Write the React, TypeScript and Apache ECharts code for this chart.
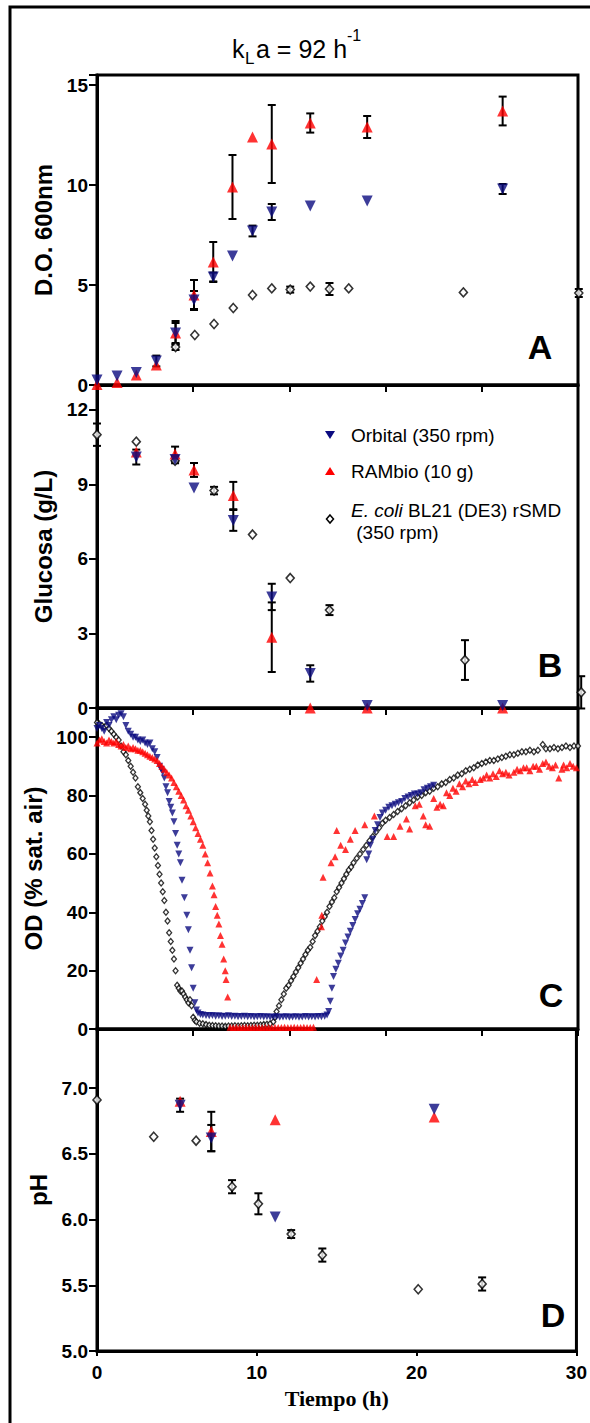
import React, { useEffect, useRef } from 'react';
import * as echarts from 'echarts';

const NAVY = '#0b0b80';
const RED = '#ff0000';

// Panel A — D.O. 600nm : [t (h), value, sd]
const aOrbital = [[0, 0.25, 0], [1.25, 0.45, 0], [2.45, 0.62, 0], [3.7, 1.2, 0.27], [4.9, 2.6, 0.5], [6.05, 4.25, 0.45], [7.25, 5.4, 0.22], [8.45, 6.45, 0], [9.7, 7.7, 0.27], [10.9, 8.65, 0.4], [13.3, 8.95, 0], [16.85, 9.2, 0], [25.3, 9.8, 0.25]];
const aRambio = [[0, 0.02, 0], [1.25, 0.12, 0], [2.45, 0.5, 0], [3.7, 1.0, 0], [4.9, 2.6, 0.6], [6.05, 4.5, 0.75], [7.25, 6.15, 1.0], [8.45, 9.9, 1.6], [9.7, 12.4, 0], [10.9, 12.05, 1.95], [13.3, 13.1, 0.48], [16.85, 12.9, 0.55], [25.3, 13.7, 0.72]];
const aEcoli = [[4.9, 1.9, 0.15], [6.1, 2.5, 0], [7.3, 3.05, 0], [8.5, 3.85, 0], [9.7, 4.5, 0], [10.9, 4.83, 0], [12.05, 4.77, 0.15], [13.3, 4.92, 0], [14.5, 4.8, 0.3], [15.7, 4.83, 0], [22.85, 4.63, 0], [30.05, 4.6, 0.2]];

// Panel B — Glucosa (g/L)
const bOrbital = [[2.45, 10.1, 0.3], [4.87, 10.0, 0.15], [6.05, 8.85, 0], [8.5, 7.55, 0.42], [10.9, 4.47, 0.53], [13.3, 1.39, 0.33], [16.85, 0.1, 0], [25.3, 0.1, 0]];
const bRambio = [[2.45, 10.3, 0], [4.87, 10.22, 0.3], [6.05, 9.58, 0.28], [8.5, 8.55, 0.55], [10.9, 2.85, 1.4], [13.3, 0, 0], [16.85, 0, 0], [25.3, 0, 0]];
const bEcoli = [[0, 11.0, 0.45], [2.45, 10.72, 0], [4.87, 9.95, 0], [7.3, 8.75, 0.15], [9.7, 6.98, 0], [12.05, 5.23, 0], [14.5, 3.94, 0.2], [22.95, 1.93, 0.8], [30.2, 0.63, 0.65]];

// Panel C — OD (% sat. air) : [t (h), value]
const cEcoli = [[0, 105], [0.15, 104.5], [0.3, 104], [0.45, 103.5], [0.6, 104], [0.75, 103], [0.9, 102], [1.05, 101], [1.2, 100], [1.35, 99], [1.5, 97], [1.65, 95], [1.8, 94], [1.95, 92], [2.1, 90], [2.25, 88], [2.4, 86], [2.55, 83], [2.7, 81], [2.85, 79], [3.0, 77], [3.1, 75], [3.2, 73], [3.3, 71], [3.4, 68], [3.5, 65], [3.6, 62], [3.7, 59], [3.8, 56], [3.9, 53], [4.0, 50], [4.1, 47], [4.2, 44], [4.3, 40], [4.4, 37], [4.5, 33], [4.6, 30], [4.7, 27], [4.8, 24], [4.9, 20], [5.0, 15], [5.1, 14], [5.2, 13], [5.3, 13], [5.4, 12], [5.5, 11], [5.6, 10], [5.7, 9], [5.8, 10], [5.9, 8], [6.0, 4], [6.1, 3], [6.2, 2.5], [6.4, 2], [6.6, 1.8], [6.8, 1.5], [7.0, 1.3], [7.2, 1.2], [7.4, 1.1], [7.6, 1.0], [7.8, 1.0], [8.0, 0.9], [8.2, 1.0], [8.4, 1.0], [8.6, 1.1], [8.8, 1.0], [9.0, 1.1], [9.2, 1.2], [9.4, 1.1], [9.6, 1.2], [9.8, 1.3], [10.0, 1.3], [10.2, 1.4], [10.4, 1.5], [10.6, 1.6], [10.8, 1.8], [11.0, 2.5], [11.1, 4], [11.2, 6], [11.35, 8], [11.5, 10], [11.65, 12], [11.8, 14], [11.95, 15], [12.1, 16.5], [12.25, 18], [12.4, 19.5], [12.55, 21], [12.7, 22.5], [12.85, 24], [13.0, 25.5], [13.15, 27], [13.3, 28], [13.45, 30], [13.6, 32], [13.75, 33.5], [13.9, 35], [14.05, 37], [14.2, 38.5], [14.35, 40], [14.5, 42], [14.65, 43.5], [14.8, 45], [14.95, 47], [15.1, 48.5], [15.25, 50], [15.4, 51.5], [15.55, 53], [15.7, 54.5], [15.85, 55.5], [16.0, 57], [16.2, 58.5], [16.4, 60], [16.6, 61.5], [16.8, 63], [17.0, 64.5], [17.2, 66], [17.4, 67.5], [17.6, 69], [17.8, 70.5], [18.0, 71.5], [18.25, 72.5], [18.5, 73.5], [18.75, 74.5], [19.0, 75.5], [19.25, 76.5], [19.5, 77.5], [19.75, 78.5], [20.0, 79.5], [20.25, 80], [20.5, 81], [20.75, 81.5], [21.0, 82.5], [21.25, 83], [21.5, 84], [21.75, 84.5], [22.0, 85.5], [22.25, 86], [22.5, 87], [22.75, 87.5], [23.0, 88.5], [23.25, 89], [23.5, 89.5], [23.75, 90.5], [24.0, 91], [24.25, 91.5], [24.5, 92], [24.75, 92], [25.0, 92.5], [25.25, 93], [25.5, 93.5], [25.75, 94], [26.0, 94], [26.25, 94.5], [26.5, 95], [26.75, 95], [27.0, 95.5], [27.25, 95], [27.5, 95.5], [27.8, 97.5], [28.0, 96], [28.25, 96], [28.5, 96.5], [28.75, 96], [29.0, 96.5], [29.25, 97], [29.5, 96.5], [29.75, 97], [30.0, 97]];
const cOrbital = [[0, 103], [0.15, 104], [0.3, 103], [0.45, 102], [0.6, 105], [0.75, 104], [0.9, 106], [1.05, 107], [1.2, 106], [1.35, 107.5], [1.5, 108], [1.65, 107], [1.8, 104], [1.95, 102], [2.1, 101], [2.25, 100], [2.4, 100], [2.55, 99], [2.7, 98.5], [2.85, 99], [3.0, 98], [3.15, 97.5], [3.3, 98], [3.45, 96], [3.6, 95], [3.75, 93], [3.9, 90], [4.0, 89], [4.1, 88], [4.2, 86], [4.3, 83], [4.4, 81], [4.5, 78], [4.6, 76], [4.7, 74], [4.8, 71], [4.9, 67], [5.0, 63], [5.1, 60], [5.2, 57], [5.3, 51], [5.45, 45], [5.6, 39], [5.7, 34], [5.8, 27], [5.9, 21], [6.0, 14], [6.1, 9], [6.2, 6.5], [6.3, 5.5], [6.45, 5], [6.6, 4.8], [6.8, 4.6], [7.0, 4.5], [7.2, 4.6], [7.4, 4.4], [7.6, 4.5], [7.8, 4.3], [8.0, 4.4], [8.2, 4.5], [8.4, 4.3], [8.6, 4.4], [8.8, 4.2], [9.0, 4.3], [9.2, 4.4], [9.4, 4.2], [9.6, 4.3], [9.8, 4.1], [10.0, 4.2], [10.2, 4.3], [10.4, 4.1], [10.6, 4.2], [10.8, 4.0], [11.0, 4.1], [11.2, 4.2], [11.4, 4.0], [11.6, 4.1], [11.8, 4.2], [12.0, 4.0], [12.2, 4.1], [12.4, 4.2], [12.6, 4.0], [12.8, 4.1], [13.0, 4.3], [13.2, 4.1], [13.4, 4.2], [13.6, 4.1], [13.8, 4.3], [14.0, 4.2], [14.2, 4.4], [14.35, 4.8], [14.45, 6], [14.55, 9.5], [14.65, 14], [14.75, 18], [14.9, 20.5], [15.05, 22.5], [15.2, 25], [15.35, 27], [15.5, 29.5], [15.65, 31.5], [15.8, 33.5], [15.95, 35.5], [16.1, 37.5], [16.25, 39.5], [16.4, 41], [16.55, 43], [16.7, 45], [16.82, 58], [16.95, 60], [17.05, 63], [17.2, 65], [17.35, 68], [17.5, 70], [17.65, 72.5], [17.8, 74], [18.0, 75], [18.2, 76], [18.4, 76.5], [18.6, 77], [18.8, 77.5], [19.0, 78], [19.2, 79], [19.4, 79.5], [19.6, 80], [19.8, 80.5], [20.0, 80.5], [20.2, 81], [20.4, 82], [20.6, 82.5], [20.8, 83], [21.0, 83.5]];
const cRambio = [[0, 98], [0.15, 99], [0.3, 99.5], [0.45, 98.5], [0.6, 98], [0.75, 99], [0.9, 98.5], [1.05, 98], [1.2, 98.5], [1.35, 97.5], [1.5, 97], [1.65, 97.5], [1.8, 96.5], [1.95, 97], [2.1, 96], [2.25, 96.5], [2.4, 96], [2.55, 95.5], [2.7, 95.5], [2.85, 95], [3.0, 94.5], [3.15, 94], [3.3, 93.5], [3.45, 93], [3.6, 92.5], [3.75, 92], [3.9, 91], [4.05, 90], [4.2, 89], [4.35, 88], [4.5, 87], [4.65, 86], [4.8, 84.5], [4.95, 83], [5.1, 81.5], [5.25, 80], [5.4, 78.5], [5.55, 76.5], [5.7, 75], [5.85, 73], [6.0, 71], [6.15, 69], [6.3, 67], [6.45, 65], [6.6, 63], [6.75, 60], [6.9, 57], [7.05, 53.5], [7.2, 49], [7.3, 46], [7.4, 42], [7.5, 39], [7.6, 36], [7.7, 32], [7.8, 29], [7.9, 24], [8.0, 20], [8.05, 17], [8.15, 11], [8.3, 0.6], [8.5, 0.5], [8.7, 0.6], [8.9, 0.5], [9.1, 0.5], [9.3, 0.6], [9.5, 0.5], [9.7, 0.5], [9.9, 0.6], [10.1, 0.5], [10.3, 0.5], [10.5, 0.6], [10.7, 0.5], [10.9, 0.5], [11.1, 0.6], [11.3, 0.5], [11.5, 0.5], [11.7, 0.6], [11.9, 0.5], [12.1, 0.5], [12.3, 0.6], [12.5, 0.5], [12.7, 0.5], [12.9, 0.6], [13.1, 0.5], [13.3, 0.5], [13.5, 0.6], [13.7, 17], [14.0, 35], [14.02, 39], [14.1, 52], [14.6, 57], [14.85, 59], [14.95, 68], [15.2, 63], [15.5, 61.5], [15.8, 65], [16.1, 68], [16.7, 70], [17.3, 73], [18.1, 66], [18.5, 66], [18.9, 69.5], [19.3, 72], [19.5, 68.5], [19.85, 76.5], [20.1, 77], [20.35, 73], [20.5, 70], [20.75, 69.5], [21.0, 79], [21.2, 76], [21.4, 77], [21.6, 76.5], [21.8, 81], [22.0, 80], [22.2, 82.5], [22.4, 81.5], [22.6, 84], [22.8, 83], [23.0, 85], [23.2, 84], [23.4, 85.5], [23.6, 84.5], [23.9, 85.5], [24.1, 86], [24.3, 87], [24.5, 86], [24.7, 87.5], [24.9, 86.5], [25.1, 88.5], [25.3, 87.5], [25.5, 88], [25.7, 87], [26.0, 88], [26.2, 89], [26.4, 88.5], [26.6, 89.5], [26.8, 89.5], [27.0, 88.5], [27.2, 90], [27.4, 90], [27.6, 89], [27.8, 91], [28.0, 91.5], [28.2, 90], [28.4, 89.5], [28.6, 90.5], [28.8, 86], [29.0, 89], [29.1, 90.5], [29.3, 89.5], [29.5, 91], [29.7, 90], [29.9, 89.5]];

// Panel D — pH : [t (h), value, sd]
const dOrbital = [[5.2, 6.87, 0.05], [7.15, 6.62, 0.1], [11.15, 6.02, 0], [21.1, 6.84, 0]];
const dRambio = [[5.2, 6.9, 0], [7.15, 6.67, 0.15], [11.15, 6.76, 0], [21.1, 6.78, 0]];
const dEcoli = [[0, 6.91, 0], [3.55, 6.63, 0], [6.2, 6.6, 0], [8.45, 6.25, 0.05], [10.1, 6.12, 0.08], [12.15, 5.89, 0.03], [14.1, 5.73, 0.05], [20.1, 5.47, 0], [24.1, 5.51, 0.05]];

const yNames = ['D.O. 600nm', 'Glucosa (g/L)', 'OD (% sat. air)', 'pH'];
const yMin = [0, 0, 0, 5];
const yMax = [15.5, 13, 110, 7.45];
const yStep = [5, 3, 20, 0.5];
const xTickStep = [6, 6, 6, 10];
const panelLetters = ['A', 'B', 'C', 'D'];
const legendNames = ['Orbital (350 rpm)', 'RAMbio (10 g)'];

const GRID_TOP = [75, 385, 708, 1029];
const GRID_H = [310, 323, 321, 322];
const FONT = 'Liberation Sans, Arial, sans-serif';

function errData(...sets: number[][][]) {
  const out: number[][] = [];
  sets.forEach((s) => s.forEach((p) => { if (p[2] > 0) out.push([p[0], p[1] - p[2], p[1] + p[2]]); }));
  return out;
}

function errSeries(i: number, data: number[][]) {
  return {
    type: 'custom', xAxisIndex: i, yAxisIndex: i, data, clip: false, z: 1,
    encode: { x: 0, y: [1, 2] },
    renderItem: (params: any, api: any) => {
      const x = api.value(0);
      const p1 = api.coord([x, api.value(1)]);
      const p2 = api.coord([x, api.value(2)]);
      const w = 4;
      const st = { stroke: '#000', lineWidth: 2 };
      return {
        type: 'group', children: [
          { type: 'line', shape: { x1: p1[0], y1: p1[1], x2: p2[0], y2: p2[1] }, style: st },
          { type: 'line', shape: { x1: p1[0] - w, y1: p1[1], x2: p1[0] + w, y2: p1[1] }, style: st },
          { type: 'line', shape: { x1: p2[0] - w, y1: p2[1], x2: p2[0] + w, y2: p2[1] }, style: st },
        ],
      };
    },
  };
}

function sc(i: number, data: number[][], kind: 'orb' | 'ram' | 'eco', small = false) {
  const base: any = {
    type: 'scatter', xAxisIndex: i, yAxisIndex: i, clip: false, z: 3,
    data: data.map((p) => [p[0], p[1]]),
  };
  if (kind === 'orb') {
    return { ...base, symbol: 'triangle', symbolRotate: 180, symbolSize: small ? 7 : 11, itemStyle: { color: NAVY } };
  }
  if (kind === 'ram') {
    return { ...base, symbol: 'triangle', symbolSize: small ? 7 : 11, itemStyle: { color: RED } };
  }
  return { ...base, symbol: 'diamond', symbolSize: small ? [5, 6] : [8, 9], itemStyle: { color: '#fff', borderColor: '#000', borderWidth: small ? 1.3 : 1.6 } };
}

function txt(x: number, y: number, text: string, size: number, opts: any = {}) {
  return {
    type: 'text', x, y, z: 100,
    style: {
      text, fill: '#000', fontSize: size, fontFamily: opts.family || FONT,
      fontWeight: opts.weight || 'normal', fontStyle: opts.style || 'normal',
      align: opts.align || 'left', textAlign: opts.align || 'left',
      verticalAlign: 'middle', textVerticalAlign: 'middle',
      rich: opts.rich,
    },
  };
}

function buildOption() {
  const lineSt = { color: '#000', width: 3 };
  const grid = GRID_TOP.map((t, i) => ({
    left: 97, right: 12, top: t, height: GRID_H[i], show: true, borderColor: '#000', borderWidth: 3, backgroundColor: 'transparent',
  }));
  const xAxis = [0, 1, 2, 3].map((i) => ({
    gridIndex: i, type: 'value', min: 0, max: 30, interval: xTickStep[i],
    axisLine: { show: true, lineStyle: lineSt },
    axisTick: { show: true, length: i === 3 ? 5 : 7, lineStyle: { color: '#000', width: 2 } },
    axisLabel: { show: i === 3, margin: 12, fontSize: 19, fontWeight: 'bold', color: '#000', fontFamily: FONT },
    splitLine: { show: false },
    name: i === 3 ? 'Tiempo (h)' : '',
    nameLocation: 'middle', nameGap: 36,
    nameTextStyle: { fontFamily: 'Liberation Serif, Times New Roman, serif', fontWeight: 'bold', fontSize: 22, color: '#000' },
  }));
  const yAxis = [0, 1, 2, 3].map((i) => ({
    gridIndex: i, type: 'value', min: yMin[i], max: yMax[i], interval: yStep[i],
    name: yNames[i], nameLocation: 'middle', nameGap: 28,
    nameTextStyle: { fontFamily: FONT, fontWeight: 'bold', fontSize: 24, color: '#000' },
    axisLine: { show: true, lineStyle: lineSt },
    axisTick: { show: true, length: 8, lineStyle: { color: '#000', width: 2 } },
    axisLabel: {
      margin: 9, fontSize: 19, fontWeight: 'bold', color: '#000', fontFamily: FONT,
      formatter: (v: number) => {
        const k = Math.round((v - yMin[i]) / yStep[i]);
        if (Math.abs(yMin[i] + k * yStep[i] - v) > 1e-6) return '';
        return i === 3 ? v.toFixed(1) : String(Math.round(v));
      },
    },
    splitLine: { show: false },
  }));

  const series: any[] = [
    errSeries(0, errData(aOrbital, aRambio, aEcoli)),
    sc(0, aEcoli, 'eco'), sc(0, aRambio, 'ram'), sc(0, aOrbital, 'orb'),
    errSeries(1, errData(bOrbital, bRambio, bEcoli)),
    sc(1, bEcoli, 'eco'), sc(1, bRambio, 'ram'), sc(1, bOrbital, 'orb'),
    sc(2, cEcoli, 'eco', true), sc(2, cOrbital, 'orb', true), sc(2, cRambio, 'ram', true),
    errSeries(3, errData(dOrbital, dRambio, dEcoli)),
    sc(3, dEcoli, 'eco'), sc(3, dRambio, 'ram'), sc(3, dOrbital, 'orb'),
  ];

  const letterPos = [[540, 347], [550, 665], [551, 995], [553, 1315]];
  const graphic: any[] = [
    { type: 'rect', z: 100, shape: { x: 10, y: 7, width: 620, height: 1450 }, style: { fill: 'none', stroke: '#000', lineWidth: 3 } },
    // title k_L a = 92 h^-1
    txt(232, 49, 'k', 25),
    txt(245, 58, 'L', 17),
    txt(256, 49, 'a = 92 h', 25),
    txt(347, 35, '-1', 16),
    // legend
    { type: 'polygon', z: 100, shape: { points: [[325, 431], [335, 431], [330, 439]] }, style: { fill: NAVY } },
    txt(351, 435, legendNames[0], 19),
    { type: 'polygon', z: 100, shape: { points: [[325, 475], [335, 475], [330, 467]] }, style: { fill: RED } },
    txt(351, 471, legendNames[1], 19),
    { type: 'polygon', z: 100, shape: { points: [[330, 515], [333.5, 519], [330, 523], [326.5, 519]] }, style: { fill: '#fff', stroke: '#000', lineWidth: 1.5 } },
    txt(351, 510, '{i|E. coli} BL21 (DE3) rSMD', 19, { rich: { i: { fontStyle: 'italic', fontSize: 19, fontFamily: FONT } } }),
    txt(351, 532, ' (350 rpm)', 19),
  ];
  panelLetters.forEach((l, i) => graphic.push(txt(letterPos[i][0], letterPos[i][1], l, 34, { weight: 'bold', align: 'center' })));

  return { animation: false, backgroundColor: '#fff', grid, xAxis, yAxis, series, graphic };
}

export default function App() {
  const ref = useRef<HTMLDivElement>(null);
  useEffect(() => {
    if (!ref.current) return;
    const chart = echarts.init(ref.current, null, { renderer: 'svg' });
    chart.setOption(buildOption() as any);
    return () => chart.dispose();
  }, []);
  return <div ref={ref} style={{ position: 'absolute', left: 0, top: 0, width: 590, height: 1423, background: '#fff' }} />;
}
